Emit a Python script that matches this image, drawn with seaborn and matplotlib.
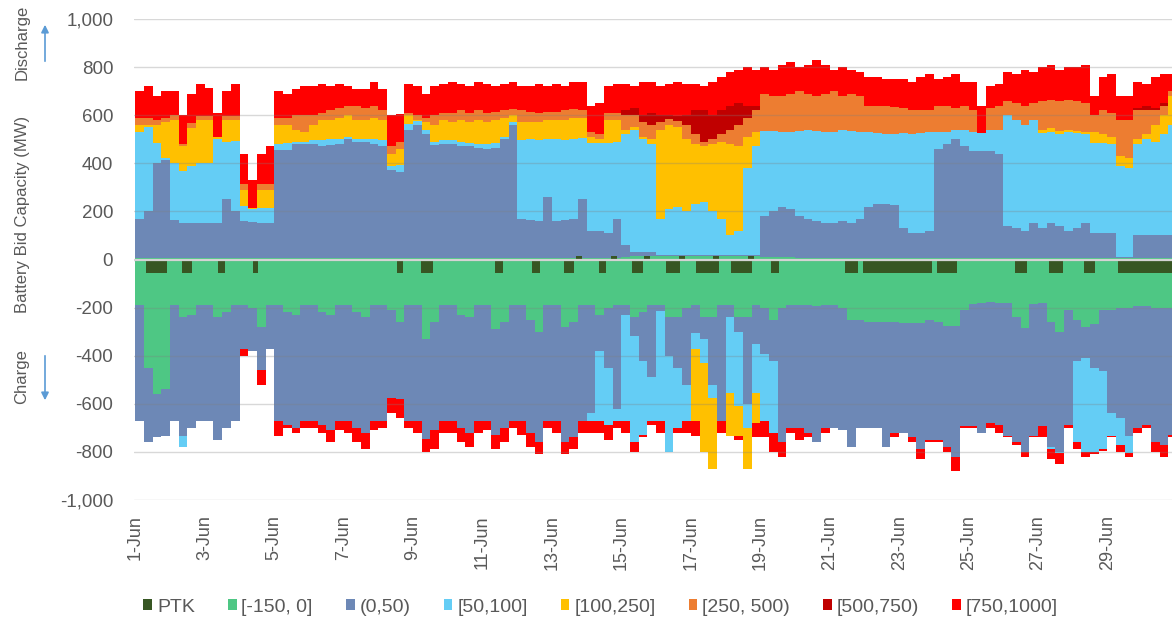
import numpy as np
import pandas as pd
import matplotlib
matplotlib.use("Agg")
import matplotlib.pyplot as plt
from matplotlib.patches import Patch
from matplotlib.ticker import FuncFormatter
import seaborn as sns

# ---------------- data (6-hour resolution, 1-Jun .. 30-Jun) ----------------
# Discharge side: cumulative upper boundary (MW) of each price band; 0 = band absent
top_green = [8, 8, 8, 8, 8, 8, 8, 8,   8, 8, 8, 8, 8, 8, 8, 8,
             8, 8, 8, 8, 8, 8, 8, 8,   8, 8, 8, 8, 8, 8, 8, 8,
             8, 8, 8, 8, 8, 8, 8, 8,   8, 8, 8, 8, 8, 8, 8, 8,
             8, 8, 8, 8, 8, 8, 8, 8,   12, 15, 15, 15, 15, 15, 15, 15,
             15, 15, 15, 15, 15, 15, 15, 15,   10, 10, 10, 10, 8, 8, 8, 8,
             8, 8, 8, 8, 8, 8, 8, 8,   8, 8, 8, 8, 8, 8, 8, 8,
             8, 8, 8, 8, 8, 8, 8, 8,   8, 8, 8, 8, 8, 8, 8, 8,
             8, 8, 8, 8, 8, 8, 8, 8]
top_blue = [170, 200, 400, 415, 165, 152, 150, 150,   150, 150, 250, 200, 160, 155, 152, 152,
            455, 457, 480, 480, 480, 470, 475, 480,   500, 490, 490, 480, 470, 374, 365, 540,
            560, 520, 475, 480, 480, 470, 470, 465,   460, 465, 500, 560, 170, 165, 160, 260,
            160, 165, 170, 250, 120, 118, 110, 170,   60, 30, 30, 30, 20, 20, 20, 20,
            20, 20, 20, 20, 20, 20, 20, 20,   180, 200, 220, 210, 180, 170, 160, 150,
            150, 160, 150, 170, 220, 230, 230, 225,   130, 110, 110, 120, 460, 480, 500, 470,
            450, 450, 450, 440, 140, 130, 120, 150,   130, 150, 140, 120, 130, 150, 110, 110,
            110, 10, 10, 100, 100, 100, 100, 100]
top_lightblue = [530, 550, 485, 420, 400, 367, 388, 400,   400, 500, 490, 492, 222, 210, 215, 215,
                 480, 485, 490, 490, 495, 495, 500, 500,   510, 500, 500, 500, 495, 390, 395, 565,
                 575, 540, 490, 495, 495, 490, 485, 480,   480, 485, 510, 570, 495, 500, 495, 500,
                 500, 495, 500, 505, 485, 485, 485, 490,   520, 540, 500, 480, 170, 210, 220, 200,
                 230, 240, 200, 170, 100, 120, 380, 470,   535, 535, 530, 530, 535, 540, 535, 530,
                 530, 540, 535, 530, 530, 525, 520, 520,   525, 520, 525, 530, 530, 530, 540, 540,
                 530, 527, 540, 540, 600, 580, 560, 580,   527, 530, 520, 530, 525, 520, 485, 485,
                 480, 390, 381, 480, 500, 490, 520, 560]
top_yellow = [560, 560, 560, 570, 580, 470, 547, 580,   580, 510, 580, 580, 291, 215, 291, 291,
              560, 560, 540, 530, 560, 580, 580, 590,   600, 580, 580, 590, 580, 440, 460, 600,
              580, 570, 560, 580, 570, 580, 570, 580,   570, 580, 590, 600, 570, 570, 570, 580,
              580, 580, 590, 590, 510, 500, 580, 580,   540, 550, 510, 500, 540, 560, 550, 500,
              480, 470, 480, 490, 480, 470, 510, 530,   0, 0, 0, 0, 0, 0, 0, 0,
              0, 0, 0, 0, 0, 0, 0, 0,   0, 0, 0, 0, 0, 0, 0, 0,
              0, 0, 0, 0, 0, 0, 0, 0,   540, 545, 535, 540, 535, 530, 530, 520,
              510, 430, 420, 500, 520, 560, 600, 680]
top_orange = [590, 590, 580, 590, 600, 480, 568, 596,   596, 510, 596, 596, 312, 215, 312, 312,
              589, 589, 600, 600, 600, 610, 620, 630,   640, 640, 630, 640, 620, 470, 490, 610,
              600, 590, 600, 610, 610, 620, 610, 620,   610, 615, 620, 625, 620, 615, 610, 615,
              615, 620, 625, 620, 530, 520, 610, 610,   600, 600, 570, 560, 570, 585, 575, 560,
              520, 490, 500, 520, 540, 560, 590, 620,   690, 680, 680, 690, 700, 690, 680, 690,
              700, 680, 690, 680, 640, 640, 640, 635,   630, 620, 620, 620, 640, 640, 630, 640,
              620, 0, 630, 640, 660, 650, 640, 650,   660, 665, 660, 665, 660, 650, 600, 620,
              610, 580, 582, 620, 620, 620, 640, 700]
top_darkred = [0, 0, 0, 0, 0, 0, 0, 0,   0, 0, 0, 0, 0, 0, 0, 0,
               0, 0, 0, 0, 0, 0, 0, 0,   0, 0, 0, 0, 0, 0, 0, 0,
               0, 0, 0, 0, 0, 0, 0, 0,   0, 0, 0, 0, 0, 0, 0, 0,
               0, 0, 0, 0, 0, 0, 0, 0,   620, 630, 600, 610, 600, 600, 595, 600,
               620, 620, 600, 620, 640, 650, 640, 640,   0, 0, 0, 0, 0, 0, 0, 0,
               0, 0, 0, 0, 0, 0, 0, 0,   0, 0, 0, 0, 0, 0, 0, 0,
               0, 0, 0, 0, 0, 0, 0, 0,   0, 0, 0, 0, 0, 0, 0, 0,
               0, 0, 0, 630, 640, 630, 650, 700]
top_red = [700, 720, 680, 700, 700, 600, 690, 730,   714, 610, 700, 730, 440, 330, 440, 470,
           700, 690, 710, 720, 720, 730, 720, 730,   720, 710, 710, 740, 710, 600, 605, 730,
           720, 690, 720, 730, 740, 730, 720, 740,   730, 720, 730, 740, 720, 720, 730, 720,
           730, 720, 740, 740, 640, 650, 720, 730,   730, 720, 740, 740, 720, 730, 740, 730,
           730, 720, 740, 760, 780, 790, 800, 790,   800, 790, 810, 820, 800, 810, 830, 810,
           790, 800, 790, 780, 760, 760, 750, 750,   750, 740, 760, 770, 750, 760, 770, 740,
           740, 638, 720, 730, 780, 770, 790, 780,   800, 810, 790, 800, 800, 810, 680, 760,
           770, 680, 680, 740, 730, 760, 770, 770]

# Charge side: cumulative depth (MW below zero) of each band; 0 = band absent
depth_green = [190, 450, 560, 540, 190, 240, 230, 190,   190, 240, 220, 190, 190, 200, 280, 190,
               190, 220, 230, 190, 190, 220, 230, 190,   190, 220, 240, 190, 190, 210, 260, 190,
               190, 330, 260, 190, 190, 230, 240, 190,   190, 290, 260, 190, 190, 250, 300, 190,
               190, 280, 260, 190, 190, 230, 200, 190,   190, 240, 220, 190, 190, 240, 240, 200,
               190, 240, 240, 190, 190, 240, 240, 190,   200, 250, 200, 190, 190, 190, 195, 190,
               190, 200, 250, 250, 260, 260, 260, 260,   265, 265, 265, 250, 260, 277, 277, 210,
               185, 180, 175, 180, 180, 240, 285, 185,   180, 260, 300, 208, 250, 280, 270, 208,
               208, 200, 200, 195, 195, 200, 200, 200]
depth_blue = [672, 760, 740, 732, 672, 732, 700, 672,   672, 750, 700, 672, 374, 380, 460, 374,
              672, 690, 700, 672, 672, 690, 710, 672,   672, 700, 720, 672, 672, 575, 580, 672,
              672, 748, 710, 672, 672, 700, 720, 672,   672, 730, 700, 672, 672, 720, 760, 672,
              672, 760, 740, 672, 640, 380, 450, 620,   230, 320, 420, 490, 215, 400, 450, 520,
              305, 330, 520, 672, 240, 300, 600, 350,   395, 420, 760, 700, 700, 720, 760, 700,
              700, 710, 780, 700, 700, 700, 780, 720,   720, 740, 790, 750, 750, 780, 820, 693,
              693, 720, 680, 690, 735, 760, 800, 735,   693, 780, 800, 690, 420, 410, 450, 465,
              640, 660, 735, 700, 690, 760, 770, 728]
depth_lightblue = [0, 0, 0, 0, 0, 780, 0, 0,   0, 0, 0, 0, 0, 0, 0, 0,
                   0, 0, 0, 0, 0, 0, 0, 0,   0, 0, 0, 0, 0, 0, 0, 0,
                   0, 0, 0, 0, 0, 0, 0, 0,   0, 0, 0, 0, 0, 0, 0, 0,
                   0, 0, 0, 0, 672, 672, 690, 672,   672, 760, 730, 672, 672, 800, 700, 672,
                   374, 430, 575, 0, 555, 610, 700, 554,   672, 720, 0, 0, 0, 0, 0, 0,
                   0, 0, 0, 0, 0, 0, 0, 0,   0, 0, 0, 0, 0, 0, 0, 0,
                   0, 0, 0, 0, 0, 0, 0, 0,   0, 790, 804, 0, 760, 800, 800, 790,
                   735, 770, 804, 0, 0, 0, 0, 0]
depth_yellow = [0, 0, 0, 0, 0, 0, 0, 0,   0, 0, 0, 0, 0, 0, 0, 0,
                0, 0, 0, 0, 0, 0, 0, 0,   0, 0, 0, 0, 0, 0, 0, 0,
                0, 0, 0, 0, 0, 0, 0, 0,   0, 0, 0, 0, 0, 0, 0, 0,
                0, 0, 0, 0, 0, 0, 0, 0,   0, 0, 0, 0, 0, 0, 0, 0,
                672, 800, 873, 0, 735, 735, 870, 680,   0, 0, 0, 0, 0, 0, 0, 0,
                0, 0, 0, 0, 0, 0, 0, 0,   0, 0, 0, 0, 0, 0, 0, 0,
                0, 0, 0, 0, 0, 0, 0, 0,   0, 0, 0, 0, 0, 0, 0, 0,
                0, 0, 0, 0, 0, 0, 0, 0]
depth_red = [0, 0, 0, 0, 0, 0, 0, 0,   0, 0, 0, 0, 400, 0, 520, 0,
             732, 700, 720, 700, 700, 720, 760, 710,   720, 760, 790, 710, 700, 640, 660, 700,
             720, 800, 790, 720, 720, 760, 780, 720,   710, 790, 760, 700, 730, 780, 810, 700,
             720, 810, 790, 720, 720, 720, 750, 700,   720, 800, 740, 690, 720, 0, 720, 720,
             735, 0, 0, 720, 0, 750, 0, 740,   740, 800, 820, 720, 750, 740, 0, 720,
             0, 0, 0, 0, 0, 0, 0, 740,   0, 760, 830, 760, 760, 800, 880, 700,
             700, 0, 700, 720, 740, 770, 820, 740,   740, 830, 850, 700, 790, 820, 810, 795,
             740, 800, 820, 720, 700, 800, 820, 740]

# PTK blocks (day offset from 1-Jun 00:00)
ptk_charge_start = [0.30, 1.33, 2.38, 3.39, 7.55, 8.24, 10.36, 11.42, 12.36, 13.35, 14.30, 15.28,
                    16.15, 17.15, 18.31, 20.44, 20.95, 23.09, 25.33, 26.32, 27.33, 28.31]
ptk_charge_end = [0.92, 1.63, 2.59, 3.53, 7.71, 8.57, 10.58, 11.65, 12.62, 13.57, 14.62, 15.69,
                  16.81, 17.76, 18.54, 20.81, 22.94, 23.67, 25.68, 26.72, 27.64, 30.00]
ptk_charge_mw = -57
ptk_discharge_start = [12.69, 13.70, 14.65, 15.65, 16.63, 17.64]
ptk_discharge_end = [12.86, 13.87, 14.82, 15.83, 16.81, 17.81]
ptk_discharge_mw = 14

legend_labels = ["PTK", "[-150, 0]", "(0,50)", "[50,100]", "[100,250]", "[250, 500)", "[500,750)", "[750,1000]"]
band_colors = ["#375623", "#4ec784", "#6d88b6", "#64cdf5", "#ffc000", "#ed7d31", "#c00000", "#ff0000"]
x_tick_days = list(range(0, 30, 2))
x_tick_labels = [f"{d + 1}-Jun" for d in x_tick_days]
y_ticks = list(range(-1000, 1001, 200))

# ---------------- build tables ----------------
palette = dict(zip(legend_labels, band_colors))
bin_width = 0.25
n = len(top_blue)
bin_start = np.arange(n) * bin_width
bin_mid = bin_start + bin_width / 2
edges = [float(v) for v in np.append(bin_start, n * bin_width)]

pos_names = ["[-150, 0]", "(0,50)", "[50,100]", "[100,250]", "[250, 500)", "[500,750)", "[750,1000]"]
pos_tops = np.maximum.accumulate(np.array([top_green, top_blue, top_lightblue, top_yellow,
                                           top_orange, top_darkred, top_red], float), axis=0)
pos_vals = np.diff(np.vstack([np.zeros(n), pos_tops]), axis=0)
df_pos = pd.DataFrame({"day": np.tile(bin_mid, len(pos_names)), "mw": pos_vals.ravel(),
                       "band": np.repeat(pos_names, n)})

neg_names = ["[-150, 0]", "(0,50)", "[50,100]", "[100,250]", "[750,1000]"]
neg_depths = np.maximum.accumulate(np.array([depth_green, depth_blue, depth_lightblue,
                                             depth_yellow, depth_red], float), axis=0)
neg_vals = -np.diff(np.vstack([np.zeros(n), neg_depths]), axis=0)
df_neg = pd.DataFrame({"day": np.tile(bin_mid, len(neg_names)), "mw": neg_vals.ravel(),
                       "band": np.repeat(neg_names, n)})


def block_table(starts, ends, mw):
    e = [float(v) for v in sorted(set(starts) | set(ends))]
    mids = (np.array(starts) + np.array(ends)) / 2
    return pd.DataFrame({"day": mids, "mw": np.full(len(mids), mw, float)}), e


df_ptk_c, ptk_c_edges = block_table(ptk_charge_start, ptk_charge_end, ptk_charge_mw)
df_ptk_d, ptk_d_edges = block_table(ptk_discharge_start, ptk_discharge_end, ptk_discharge_mw)

# ---------------- plot ----------------
sns.set_style("white")
plt.rcParams["font.family"] = ["Liberation Sans", "DejaVu Sans"]
plt.rcParams["axes.unicode_minus"] = False
text_color = "#595959"

fig = plt.figure(figsize=(11.72, 6.21), dpi=100)
ax = fig.add_axes([134 / 1172, 1 - 500 / 621, 1 - 134 / 1172, 481 / 621])

common = dict(x="day", weights="mw", hue="band", palette=palette, multiple="stack",
              bins=edges, element="step", fill=True, alpha=1, linewidth=0, legend=False, ax=ax)
sns.histplot(data=df_pos, hue_order=pos_names[::-1], **common)
sns.histplot(data=df_neg, hue_order=neg_names[::-1], **common)
sns.histplot(data=df_ptk_c, x="day", weights="mw", bins=ptk_c_edges, element="step", fill=True,
             color=palette["PTK"], alpha=1, linewidth=0, ax=ax)
sns.histplot(data=df_ptk_d, x="day", weights="mw", bins=ptk_d_edges, element="step", fill=True,
             color=palette["PTK"], alpha=1, linewidth=0, ax=ax)

ax.set_xlim(-0.04, 29.86)
ax.set_ylim(-1000, 1000)
ax.set_yticks(y_ticks)
ax.yaxis.set_major_formatter(FuncFormatter(lambda v, p: f"{int(round(v)):,}"))
ax.set_xticks(x_tick_days)
ax.set_xticklabels(x_tick_labels, rotation=90)
ax.set_xlabel("")
ax.set_ylabel("")
ax.tick_params(axis="y", length=0, pad=15, labelsize=13.5, labelcolor=text_color)
ax.tick_params(axis="x", length=0, pad=11, labelsize=13, labelcolor=text_color)
for s in ax.spines.values():
    s.set_visible(False)
ax.set_axisbelow(False)
ax.grid(axis="y", color="#7f7f7f", alpha=0.3, linewidth=1)
ax.grid(axis="x", visible=False)
ax.axhline(0, color="#d4d4d4", linewidth=1.6, zorder=6)

# axis titles and arrows
fig.text(0.0188, 0.655, "Battery Bid Capacity (MW)", rotation=90, ha="center", va="center",
         fontsize=12, color=text_color)
fig.text(0.0188, 0.932, "Discharge", rotation=90, ha="center", va="center", fontsize=12, color=text_color)
fig.text(0.0188, 0.393, "Charge", rotation=90, ha="center", va="center", fontsize=12, color=text_color)
arrow = dict(arrowstyle="-|>", color="#5b9bd5", lw=1.2, mutation_scale=11)
ax.annotate("", xy=(45 / 1172, 1 - 22 / 621), xytext=(45 / 1172, 1 - 64 / 621),
            xycoords="figure fraction", textcoords="figure fraction", arrowprops=arrow,
            annotation_clip=False)
ax.annotate("", xy=(45 / 1172, 1 - 403 / 621), xytext=(45 / 1172, 1 - 353 / 621),
            xycoords="figure fraction", textcoords="figure fraction", arrowprops=arrow,
            annotation_clip=False)

handles = [Patch(facecolor=c, edgecolor="none") for c in band_colors]
fig.legend(handles, legend_labels, loc="center", bbox_to_anchor=(0.5124, 0.0225), ncol=8,
           frameon=False, handlelength=0.45, handleheight=0.5, handletextpad=0.25,
           columnspacing=1.7, fontsize=14, labelcolor=text_color, borderaxespad=0)

fig.savefig("out.png", dpi=100)
